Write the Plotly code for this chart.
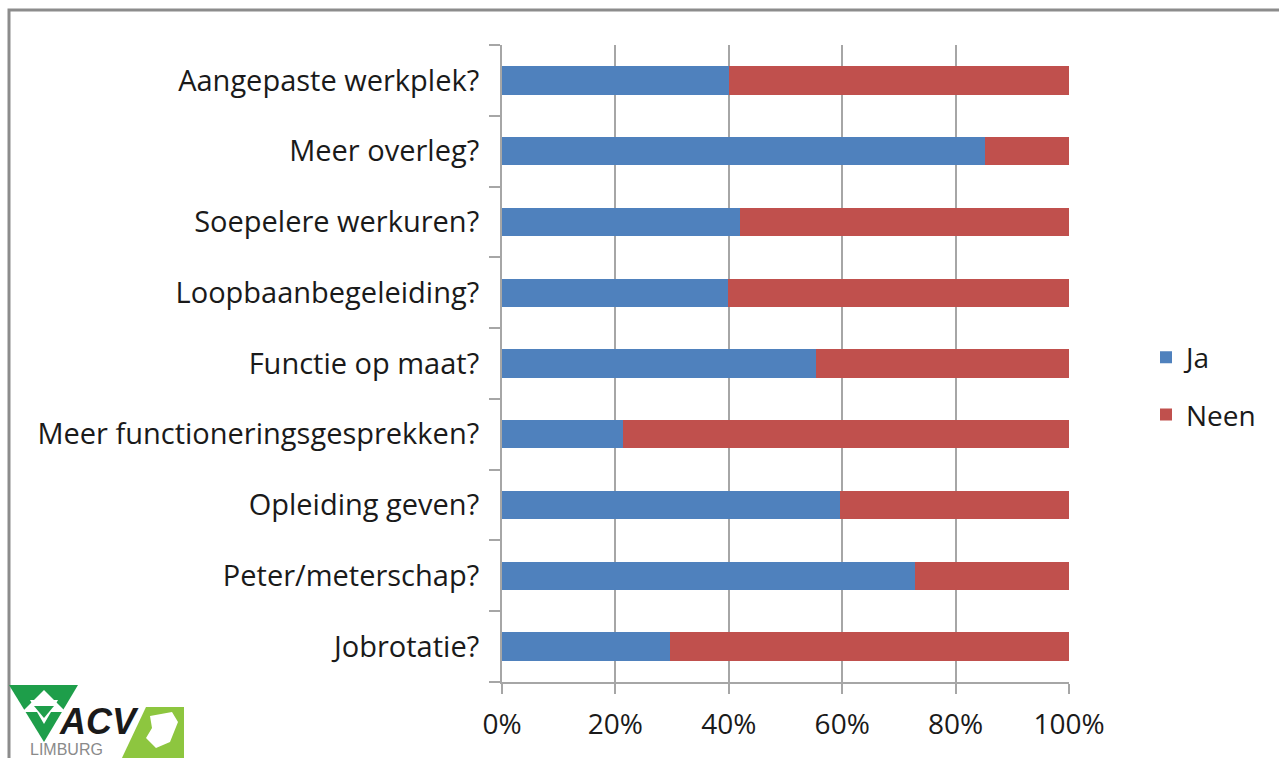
import plotly.graph_objects as go

# Survey items (top to bottom as drawn)
categories = [
    "Aangepaste werkplek?",
    "Meer overleg?",
    "Soepelere werkuren?",
    "Loopbaanbegeleiding?",
    "Functie op maat?",
    "Meer functioneringsgesprekken?",
    "Opleiding geven?",
    "Peter/meterschap?",
    "Jobrotatie?",
]
ja = [40.0, 85.2, 42.0, 39.8, 55.4, 21.3, 59.6, 72.8, 29.6]
neen = [round(100 - v, 1) for v in ja]
x_ticks = [0, 20, 40, 60, 80, 100]
x_tick_labels = ["0%", "20%", "40%", "60%", "80%", "100%"]

BLUE = "#4F81BD"
RED = "#C0504D"
AXIS = "#A6A6A6"
FONT = "Open Sans"

W, H = 1279, 758
L, R, T, B = 502, 1069, 45, 682


def px(x):
    return (x - L) / (R - L)


def py(y):
    return (B - y) / (B - T)


fig = go.Figure()
fig.add_trace(go.Bar(y=categories, x=ja, name="Ja", orientation="h",
                     marker=dict(color=BLUE, line=dict(width=0)), legendgroup="a"))
fig.add_trace(go.Bar(y=categories, x=neen, name="Neen", orientation="h",
                     marker=dict(color=RED, line=dict(width=0)), legendgroup="b"))

# Outer frame of the chart area
shapes = [
    dict(type="rect", xref="paper", yref="paper",
         x0=px(9), x1=px(W + 20), y0=py(H + 20), y1=py(10),
         line=dict(color="#8C8C8C", width=3), fillcolor="rgba(0,0,0,0)", layer="below"),
]

# Logo in the lower left corner


def poly(points, color):
    path = "M " + " L ".join(f"{px(x)},{py(y)}" for x, y in points) + " Z"
    return dict(type="path", xref="paper", yref="paper", path=path,
                fillcolor=color, line=dict(width=0), layer="above")


shapes += [
    poly([(9, 685), (78, 685), (44, 742)], "#1E9E4A"),
    poly([(30, 700), (58, 700), (44, 724)], "white"),
    poly([(22, 712), (66, 712), (44, 690)], "white"),
    poly([(34, 706), (54, 706), (44, 718)], "#1E9E4A"),
    poly([(146, 707), (184, 707), (184, 760), (121, 760)], "#8DC63F"),
    poly([(150, 716), (172, 712), (178, 722), (170, 742), (156, 748), (146, 738), (152, 728)], "white"),
]

annotations = [
    dict(text="<b><i>ACV</i></b>", xref="paper", yref="paper", x=px(99), y=py(721),
         xanchor="center", yanchor="middle", showarrow=False,
         font=dict(family="Liberation Sans", size=36, color="#1A1A1A")),
    dict(text="LIMBURG", xref="paper", yref="paper", x=px(66), y=py(749),
         xanchor="center", yanchor="middle", showarrow=False,
         font=dict(family="Liberation Sans", size=16, color="#8A8A8A")),
]

fig.update_layout(
    width=W, height=H,
    margin=dict(l=L, r=W - R, t=T, b=H - B, autoexpand=False),
    paper_bgcolor="white", plot_bgcolor="white",
    barmode="stack", bargap=0.6,
    font=dict(family=FONT, size=29, color="#1A1A1A"),
    shapes=shapes, annotations=annotations,
    legend=dict(x=px(1146), y=py(386), xanchor="left", yanchor="middle",
                font=dict(family=FONT, size=28, color="#1A1A1A"),
                tracegroupgap=18, traceorder="grouped", itemwidth=30,
                bgcolor="rgba(0,0,0,0)"),
    xaxis=dict(range=[0, 100], tickvals=x_ticks, ticktext=x_tick_labels,
               showgrid=True, gridcolor=AXIS, gridwidth=2,
               showline=True, linecolor=AXIS, linewidth=2,
               ticks="outside", ticklen=10, tickwidth=2, tickcolor=AXIS,
               zeroline=False, fixedrange=True, ticklabelstandoff=6,
               tickfont=dict(size=28)),
    yaxis=dict(categoryorder="array", categoryarray=categories[::-1],
               showline=True, linecolor=AXIS, linewidth=2,
               ticks="outside", ticklen=11, tickwidth=2, tickcolor=AXIS,
               tickson="boundaries", showgrid=False, fixedrange=True,
               ticklabelstandoff=15),
)

fig.write_html("out.html")
